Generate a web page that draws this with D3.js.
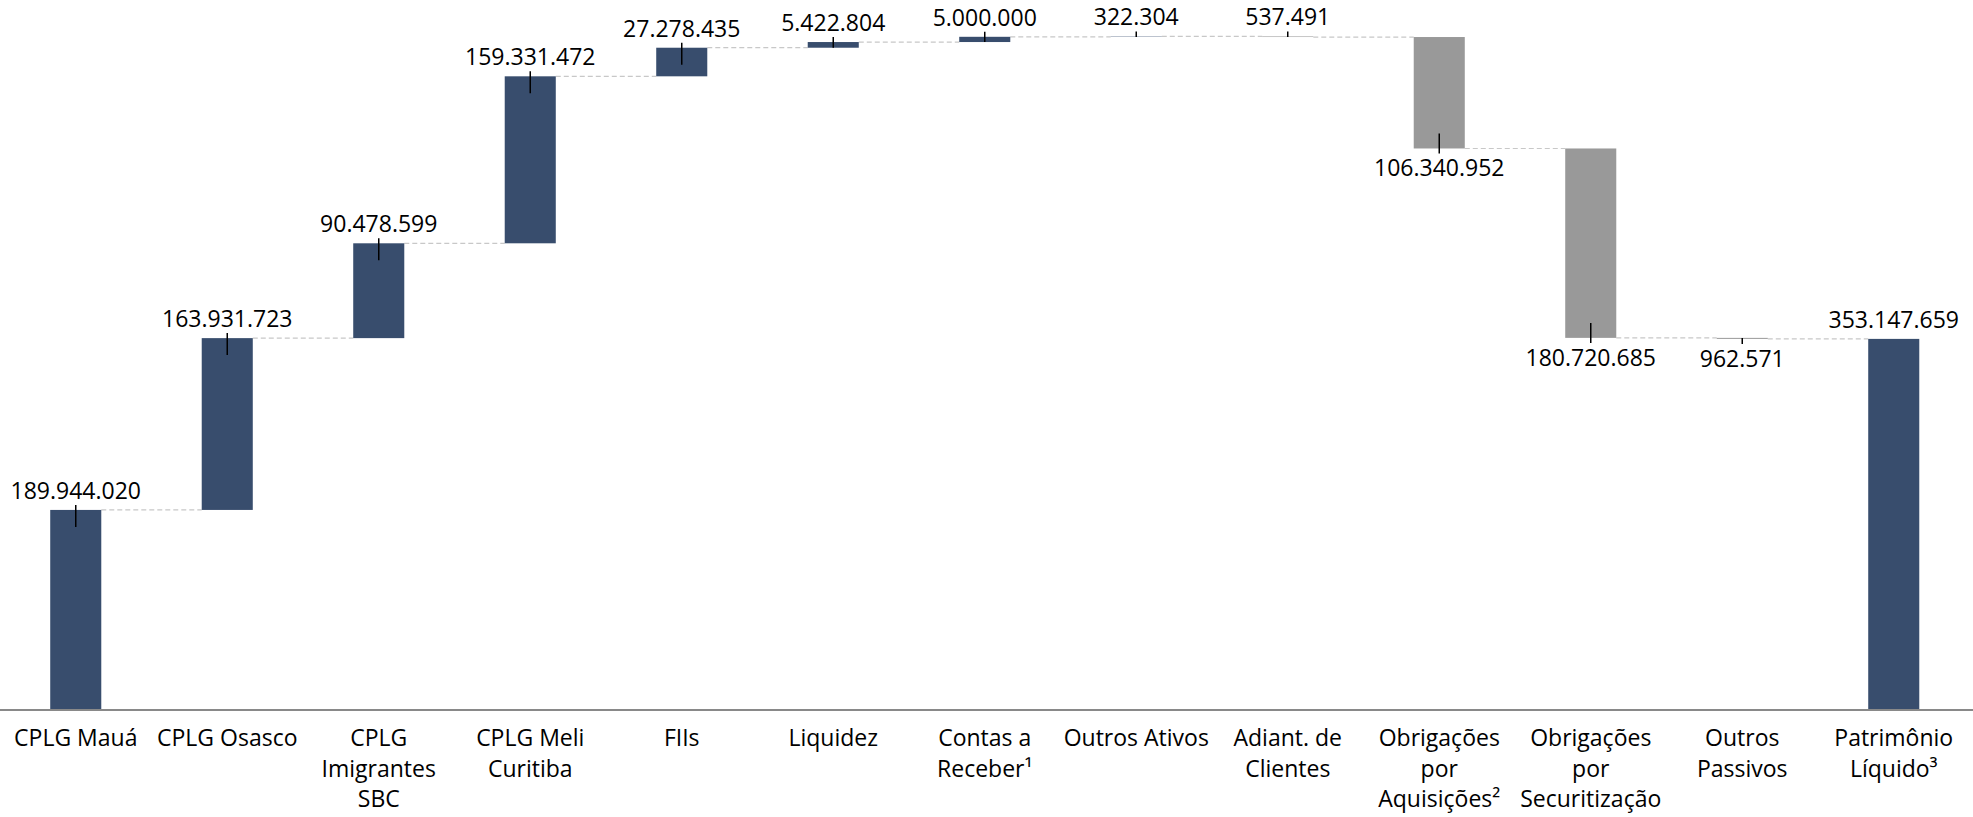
<!DOCTYPE html>
<html>
<head>
<meta charset="utf-8">
<script src="https://cdn.jsdelivr.net/npm/d3@7"></script>
<style>
  body { margin: 0; background: #fff; }
  text { font-family: "Open Sans", sans-serif; fill: #000; }
</style>
</head>
<body>
<div id="chart-container"></div>
<script>
// category labels, one entry per line of the axis label
const categories = [
    ["CPLG Mauá"], ["CPLG Osasco"], ["CPLG", "Imigrantes", "SBC"], ["CPLG Meli", "Curitiba"],
    ["FIIs"], ["Liquidez"], ["Contas a", "Receber¹"], ["Outros Ativos"], ["Adiant. de", "Clientes"],
    ["Obrigações", "por", "Aquisições²"], ["Obrigações", "por", "Securitização"],
    ["Outros", "Passivos"], ["Patrimônio", "Líquido³"]
];
const values = [189944020, 163931723, 90478599, 159331472, 27278435, 5422804, 5000000,
    322304, -537491, -106340952, -180720685, -962571, 353147659];
const totals = [false, false, false, false, false, false, false, false, false, false, false, false, true];
const labelAboveAlways = [8]; // small liability shown with its label on top

const svgWidth = 1973;
const svgHeight = 817;
const baseY = 709;

const svg = d3.select("#chart-container")
    .append("svg")
    .attr("width", svgWidth)
    .attr("height", svgHeight);

const keys = categories.map((c, i) => "c" + i);

// running totals for the waterfall
let running = 0;
const bars = values.map((v, i) => {
    let start, end;
    if (totals[i]) { start = 0; end = v; running = v; }
    else { start = running; end = running + v; running = end; }
    return { key: keys[i], value: v, start: start, end: end, total: totals[i], i: i };
});

const scaleX = d3.scaleBand()
    .domain(keys)
    .range([0, 1969.5])
    .paddingInner(0.663)
    .paddingOuter(0.3315);

const scaleY = d3.scaleLinear()
    .domain([0, 676.5e6])
    .range([baseY, 0]);

const fmt = d3.formatLocale({ decimal: ",", thousands: ".", grouping: [3], currency: ["", ""] }).format(",d");

// connectors
svg.append("g").selectAll("line")
    .data(bars.slice(0, -1))
    .enter()
    .append("line")
    .attr("x1", d => scaleX(d.key) + scaleX.bandwidth())
    .attr("x2", d => scaleX(keys[d.i + 1]))
    .attr("y1", d => scaleY(d.end))
    .attr("y2", d => scaleY(d.end))
    .attr("stroke", "#c8c8c8")
    .attr("stroke-width", 1.2)
    .attr("stroke-dasharray", "5,3");

// bars
svg.append("g").selectAll("rect")
    .data(bars)
    .enter()
    .append("rect")
    .attr("x", d => scaleX(d.key))
    .attr("width", scaleX.bandwidth())
    .attr("y", d => scaleY(Math.max(d.start, d.end)))
    .attr("height", d => Math.abs(scaleY(d.start) - scaleY(d.end)))
    .attr("fill", d => (d.total || d.value > 0) ? "#384d6d" : "#999999");

// axis
const axis = svg.append("g")
    .attr("transform", `translate(0,${baseY})`)
    .call(d3.axisBottom(scaleX).tickSize(0).tickFormat(""));
axis.select(".domain").remove();
svg.append("line")
    .attr("x1", 0).attr("x2", svgWidth)
    .attr("y1", baseY + 1).attr("y2", baseY + 1)
    .attr("stroke", "#898989")
    .attr("stroke-width", 2);

axis.selectAll(".tick text").remove();
axis.selectAll(".tick").each(function(k, i) {
    const t = d3.select(this).append("text")
        .attr("text-anchor", "middle")
        .attr("font-size", "23px");
    categories[i].forEach((line, j) => {
        t.append("tspan").attr("x", 0).attr("y", 37 + j * 30.5).text(line);
    });
});

// value labels with leader ticks
const labels = svg.append("g");
bars.forEach(d => {
    const cx = scaleX(d.key) + scaleX.bandwidth() / 2;
    const top = scaleY(Math.max(d.start, d.end));
    const bottom = scaleY(Math.min(d.start, d.end));
    const h = bottom - top;
    const above = d.total || d.value > 0 || labelAboveAlways.includes(d.i);
    if (above) {
        if (!d.total) {
            labels.append("line")
                .attr("x1", cx).attr("x2", cx)
                .attr("y1", top - 5).attr("y2", top + Math.min(17, Math.max(h, 0.5)))
                .attr("stroke", "#000").attr("stroke-width", 1.5);
        }
        labels.append("text")
            .attr("x", cx).attr("y", top - 11)
            .attr("text-anchor", "middle")
            .attr("font-size", "23px")
            .text(fmt(Math.abs(d.value)));
    } else {
        labels.append("line")
            .attr("x1", cx).attr("x2", cx)
            .attr("y1", bottom - Math.min(15, Math.max(h, 0.5))).attr("y2", bottom + 5)
            .attr("stroke", "#000").attr("stroke-width", 1.5);
        labels.append("text")
            .attr("x", cx).attr("y", bottom + 28)
            .attr("text-anchor", "middle")
            .attr("font-size", "23px")
            .text(fmt(Math.abs(d.value)));
    }
});
</script>
</body>
</html>
